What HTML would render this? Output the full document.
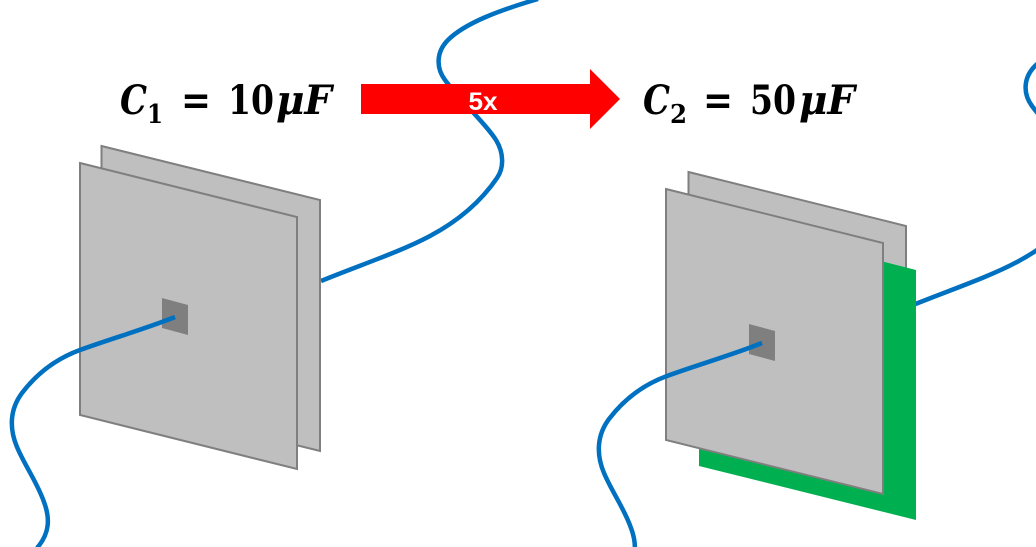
<!DOCTYPE html>
<html><head><meta charset="utf-8"><style>
html,body{margin:0;padding:0;background:#fff}
svg{display:block}
text{font-family:"DejaVu Serif","Liberation Serif",serif;font-weight:bold;fill:#000}
</style></head><body>
<svg width="1036" height="547" viewBox="0 0 1036 547" xmlns="http://www.w3.org/2000/svg">
<g fill="none" stroke="#0070c0" stroke-width="4.5">
<path d="M321 281C360 265 400 252 430 236C460 220 482 200 497 178C504 168 504 153 496 140C486 124 458 98 445 80C436 68 436 52 448 40C465 23 500 10 538 -1"/>
<path transform="translate(587,26)" d="M321 281C360 265 400 252 430 236C460 220 482 200 497 178C504 168 504 153 496 140C486 124 458 98 445 80C436 68 436 52 448 40C465 23 500 10 538 -1"/>
</g>
<polygon points="101.5,146 320,200 320,451 101.5,397" fill="#bfbfbf" stroke="#7f7f7f" stroke-width="2"/>
<polygon points="80,163 297,217 297,469 80,415" fill="#bfbfbf" stroke="#7f7f7f" stroke-width="2"/>
<polygon points="162,298 188,305 188,335 162,328" fill="#7f7f7f"/>
<path d="M175 317C145 329 110 339 80 350C58 358 38 372 22 393C10 409 9 428 17 447C25 466 37 482 44 502C50 518 50 533 37 548" fill="none" stroke="#0070c0" stroke-width="4.5"/>
<polygon points="688.5,172 906,226 906,477 688.5,423" fill="#bfbfbf" stroke="#7f7f7f" stroke-width="2"/>
<polygon points="699,215 916,270 916,520 699,466" fill="#00b050"/>
<polygon points="666,189 883,243 883,494 666,440" fill="#bfbfbf" stroke="#7f7f7f" stroke-width="2"/>
<polygon points="749,324 775,331 775,361 749,354" fill="#7f7f7f"/>
<path transform="translate(587,26)" d="M175 317C145 329 110 339 80 350C58 358 38 372 22 393C10 409 9 428 17 447C25 466 37 482 44 502C50 518 50 533 37 548" fill="none" stroke="#0070c0" stroke-width="4.5"/>
<polygon points="361,84 590,84 590,69 620,99 590,129 590,114 361,114" fill="#f00"/>
<text x="483" y="110" text-anchor="middle" style="font-family:'Liberation Sans',sans-serif;font-size:25px;fill:#fff" textLength="29" lengthAdjust="spacingAndGlyphs">5x</text>
<text x="120" y="114" font-size="40" font-style="italic" textLength="27" lengthAdjust="spacingAndGlyphs">C</text>
<text x="147" y="123" font-size="26" textLength="16" lengthAdjust="spacingAndGlyphs">1</text>
<text x="181" y="114" font-size="40" textLength="30" lengthAdjust="spacingAndGlyphs">=</text>
<text x="228" y="114" font-size="40" textLength="46" lengthAdjust="spacingAndGlyphs">10</text>
<text x="276" y="114" font-size="40" font-style="italic" textLength="56" lengthAdjust="spacingAndGlyphs">μF</text>
<text x="643" y="114" font-size="40" font-style="italic" textLength="27" lengthAdjust="spacingAndGlyphs">C</text>
<text x="670" y="123" font-size="26" textLength="17" lengthAdjust="spacingAndGlyphs">2</text>
<text x="703" y="114" font-size="40" textLength="30" lengthAdjust="spacingAndGlyphs">=</text>
<text x="750" y="114" font-size="40" textLength="46" lengthAdjust="spacingAndGlyphs">50</text>
<text x="799" y="114" font-size="40" font-style="italic" textLength="56" lengthAdjust="spacingAndGlyphs">μF</text>
</svg>
</body></html>
